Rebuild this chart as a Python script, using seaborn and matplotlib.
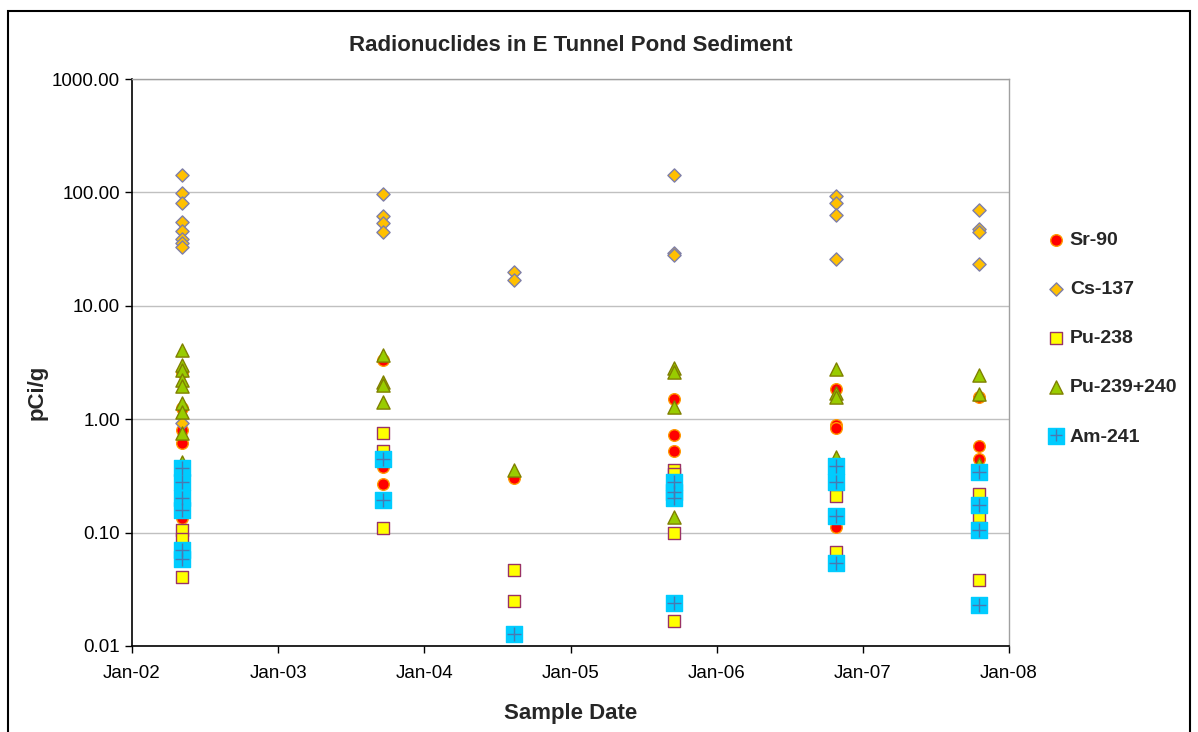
import pandas as pd
import matplotlib.pyplot as plt
import matplotlib.dates as mdates
from matplotlib.patches import Rectangle
import seaborn as sns

# Sample dates (one sampling campaign per year)
sample_dates = ['2002-05-05', '2003-09-20', '2004-08-12', '2005-09-17', '2006-10-25', '2007-10-18']

# Values in pCi/g, one list per sample date
sr90 = [[2.6, 1.25, 0.8, 0.62, 0.135], [3.3, 0.38, 0.27], [0.30],
        [1.52, 0.73, 0.52], [1.85, 0.89, 0.84, 0.112], [1.57, 0.58, 0.45]]
cs137 = [[142, 99, 80, 55, 46, 39, 36, 33, 0.93], [97, 62, 54, 45], [20, 17],
         [142, 29, 28], [93, 81, 63, 26], [70, 47.5, 45, 23.5]]
pu238 = [[0.23, 0.105, 0.087, 0.041], [0.75, 0.52, 0.11], [0.047, 0.025],
         [0.36, 0.33, 0.10, 0.0165], [0.33, 0.21, 0.068], [0.22, 0.14, 0.038]]
pu239 = [[4.1, 3.0, 2.7, 2.2, 1.95, 1.4, 1.15, 0.75, 0.42], [3.7, 2.15, 2.0, 1.42], [0.355],
         [2.8, 2.6, 1.28, 0.138], [2.75, 1.7, 1.57, 0.46], [2.45, 1.67, 0.4]]
am241 = [[0.37, 0.28, 0.20, 0.158, 0.07, 0.058], [0.45, 0.194], [0.0128],
         [0.28, 0.23, 0.20, 0.024], [0.39, 0.28, 0.14, 0.054], [0.34, 0.175, 0.105, 0.0232]]

nuclides = ['Sr-90', 'Cs-137', 'Pu-238', 'Pu-239+240', 'Am-241']
series = [sr90, cs137, pu238, pu239, am241]

# long-form table
rows = []
for name, vals in zip(nuclides, series):
    for d, vs in zip(sample_dates, vals):
        for v in vs:
            rows.append({'nuclide': name, 'date': pd.Timestamp(d), 'value': v})
df = pd.DataFrame(rows)

sns.set_style('white')
plt.rcParams['font.family'] = ['Liberation Sans', 'DejaVu Sans']

styles = {
    'Sr-90': dict(marker='o', color='#FF0000', edgecolor='#FF9900', s=70),
    'Cs-137': dict(marker='D', color='#FFC000', edgecolor='#7F7FA8', s=45),
    'Pu-238': dict(marker='s', color='#FFFF00', edgecolor='#993366', s=70),
    'Pu-239+240': dict(marker='^', color='#99CC00', edgecolor='#808000', s=90),
    'Am-241': dict(marker='s', color='#00CCFF', edgecolor='#00CCFF', s=120),
}

fig = plt.figure(figsize=(11.98, 7.32), dpi=100)
ax = fig.add_axes([132 / 1198, 86 / 732, 877 / 1198, 567 / 732])

for name in nuclides:
    sub = df[df['nuclide'] == name]
    st = styles[name]
    sns.scatterplot(data=sub, x='date', y='value', ax=ax, marker=st['marker'],
                    color=st['color'], edgecolor=st['edgecolor'], s=st['s'],
                    linewidth=1, label=name, zorder=3)
    if name == 'Am-241':
        sns.scatterplot(data=sub, x='date', y='value', ax=ax, marker='+',
                        color='#4A78B0', s=110, linewidth=1, zorder=4)

ax.set_yscale('log')
ax.set_ylim(0.01, 1000)
ax.set_yticks([0.01, 0.1, 1, 10, 100, 1000])
ax.yaxis.set_major_formatter(plt.FuncFormatter(lambda v, p: f'{v:.2f}'))
ax.yaxis.set_minor_locator(plt.NullLocator())
ax.grid(axis='y', color='#C0C0C0', linewidth=1)
ax.set_axisbelow(True)

ax.set_xlim(pd.Timestamp('2002-01-01'), pd.Timestamp('2008-01-01'))
ax.xaxis.set_major_locator(mdates.YearLocator())
ax.xaxis.set_major_formatter(mdates.DateFormatter('%b-%y'))

ax.tick_params(axis='both', direction='out', length=5, width=1, labelsize=13.5,
               colors='black', bottom=True, left=True)
ax.tick_params(axis='x', pad=9)
for side in ['left', 'bottom']:
    ax.spines[side].set_color('black')
    ax.spines[side].set_linewidth(1.2)
for side in ['top', 'right']:
    ax.spines[side].set_color('#A0A0A0')
    ax.spines[side].set_linewidth(1)

ax.set_xlabel('Sample Date', fontsize=16, fontweight='bold', labelpad=15)
ax.set_ylabel('pCi/g', fontsize=16, fontweight='bold')
ax.yaxis.set_label_coords(-0.096, 0.448)
ax.set_title('Radionuclides in E Tunnel Pond Sediment', fontsize=16,
             fontweight='bold', pad=20)

# legend, Am-241 marker is a square with a cross on top
h, l = ax.get_legend_handles_labels()
leg_map = dict(zip(l, h))
plus = plt.Line2D([], [], marker='+', color='#4A78B0', linestyle='none', markersize=9)
leg_handles = [leg_map[n] for n in nuclides[:-1]] + [(leg_map['Am-241'], plus)]
ax.legend().remove()
fig.legend(leg_handles, nuclides, loc='upper left', bbox_to_anchor=(1027 / 1198, 1 - 214 / 732),
           frameon=False, prop={'weight': 'bold', 'size': 14}, labelspacing=1.62,
           handletextpad=0.1, handlelength=1.2)

# chart border
fig.patches.append(Rectangle((8 / 1198, -0.01), 1182 / 1198, 1 - 11 / 732 + 0.01,
                             transform=fig.transFigure, fill=False,
                             edgecolor='black', linewidth=1.5))

fig.savefig('out.png', dpi=100)
